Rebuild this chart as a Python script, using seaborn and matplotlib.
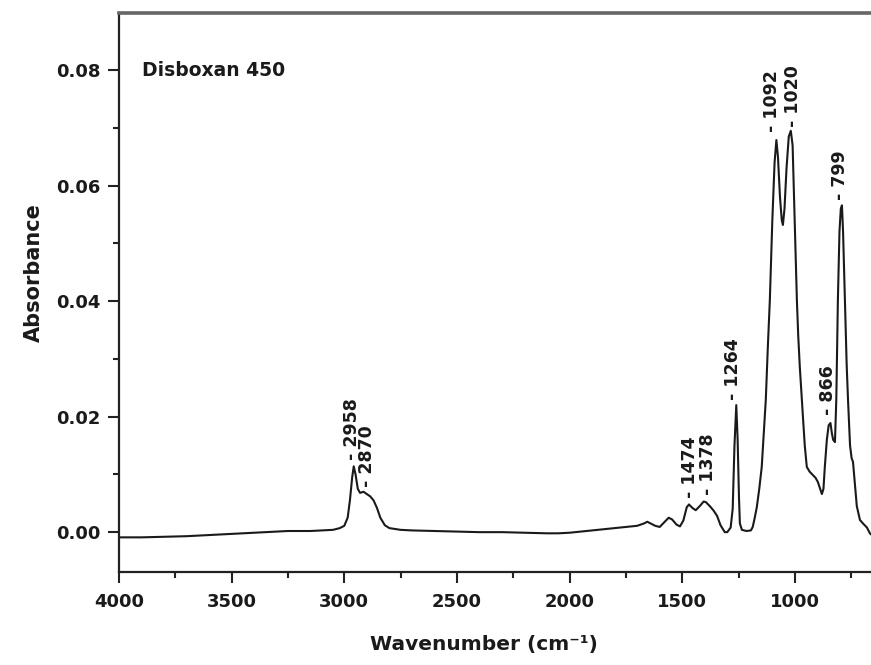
import numpy as np
import pandas as pd
import matplotlib
matplotlib.use("Agg")
import matplotlib.pyplot as plt
from matplotlib.ticker import MultipleLocator, FormatStrFormatter
import seaborn as sns

# ---------------- data ----------------
wavenumber = [
    4000, 3900, 3800, 3700, 3600, 3500, 3400, 3300, 3250, 3200, 3150, 3100,
    3050, 3020, 3000, 2985, 2975, 2965, 2958, 2950, 2940, 2930, 2915, 2900,
    2885, 2870, 2855, 2840, 2820, 2800, 2750, 2700, 2600, 2500, 2400, 2300,
    2200, 2100, 2050, 2000, 1950, 1900, 1850, 1800, 1750, 1700, 1670, 1655,
    1640, 1620, 1600, 1580, 1560, 1545, 1525, 1510, 1495, 1480, 1470, 1455,
    1440, 1420, 1405, 1395, 1375, 1360, 1345, 1330, 1311, 1300, 1285, 1276,
    1268, 1260, 1254, 1248, 1244, 1235, 1215, 1195, 1187, 1178, 1169, 1158,
    1147, 1138, 1129, 1120, 1111, 1100, 1090, 1082, 1075, 1066, 1058, 1053,
    1046, 1037, 1027, 1018, 1010, 1002, 991, 985, 978, 970, 964, 956,
    947, 935, 920, 908, 898, 888, 880, 873, 867, 858, 850, 842,
    836, 830, 822, 816, 809, 802, 796, 791, 786, 778, 770, 764,
    755, 748, 742, 735, 725, 711, 695, 680, 667, 662,
]
absorbance = [
    -0.0009, -0.0009, -0.0008, -0.0007, -0.0005, -0.0003, -0.0001, 0.0001, 0.0002, 0.0002, 0.0002, 0.0003,
    0.0004, 0.0007, 0.0011, 0.0025, 0.0055, 0.0095, 0.0114, 0.0100, 0.0075, 0.0068, 0.0070, 0.0066,
    0.0062, 0.0055, 0.0042, 0.0025, 0.0012, 0.0007, 0.0004, 0.0003, 0.0002, 0.0001, 0.0000, 0.0000,
    -0.0001, -0.0002, -0.0002, -0.0001, 0.0001, 0.0003, 0.0005, 0.0007, 0.0009, 0.0011, 0.0015, 0.0018,
    0.0015, 0.0011, 0.0009, 0.0017, 0.0025, 0.0022, 0.0013, 0.0010, 0.0020, 0.0043, 0.0048, 0.0042,
    0.0038, 0.0046, 0.0053, 0.0052, 0.0044, 0.0037, 0.0028, 0.0012, 0.0000, 0.0000, 0.0008, 0.0040,
    0.0150, 0.0220, 0.0160, 0.0060, 0.0015, 0.0004, 0.0002, 0.0003, 0.0009, 0.0025, 0.0043, 0.0075,
    0.0113, 0.0170, 0.0229, 0.0320, 0.0402, 0.0540, 0.0640, 0.0679, 0.0650, 0.0580, 0.0540, 0.0532,
    0.0560, 0.0630, 0.0685, 0.0695, 0.0670, 0.0560, 0.0402, 0.0340, 0.0286, 0.0235, 0.0199, 0.0150,
    0.0113, 0.0105, 0.0099, 0.0094, 0.0087, 0.0075, 0.0066, 0.0075, 0.0113, 0.0160, 0.0185, 0.0189,
    0.0172, 0.0160, 0.0156, 0.0230, 0.0402, 0.0520, 0.0560, 0.0566, 0.0520, 0.0402, 0.0290, 0.0229,
    0.0150, 0.0128, 0.0122, 0.0090, 0.0045, 0.0021, 0.0014, 0.0008, -0.0002, -0.0004,
]

peak_labels = ["2958", "2870", "1474", "1378", "1264", "1092", "1020", "866", "799"]
peak_label_x = [2964, 2898, 1467, 1387, 1276, 1102, 1009, 853, 800]
peak_label_y = [0.0125, 0.0078, 0.0059, 0.0064, 0.0229, 0.0693, 0.0701, 0.0203, 0.0575]

x_ticks = [4000, 3500, 3000, 2500, 2000, 1500, 1000]
y_ticks = [0.00, 0.02, 0.04, 0.06, 0.08]

sample_name = "Disboxan 450"
x_label = "Wavenumber (cm⁻¹)"
y_label = "Absorbance"

df = pd.DataFrame({"wavenumber": wavenumber, "absorbance": absorbance})

# ---------------- styling ----------------
sns.set_style("ticks")
plt.rcParams["font.family"] = ["DejaVu Sans"]
plt.rcParams["font.weight"] = "bold"

fig = plt.figure(figsize=(8.71, 6.65), dpi=100)
ax = fig.add_axes([119 / 871, 93 / 665, 752 / 871, 559 / 665])

sns.lineplot(data=df, x="wavenumber", y="absorbance", ax=ax, sort=False,
             estimator=None, color="#1a1a1a", linewidth=1.5)

ax.set_xlim(4000, 662)
ax.set_ylim(-0.0069, 0.0899)

ax.set_xticks(x_ticks)
ax.set_yticks(y_ticks)
ax.xaxis.set_minor_locator(MultipleLocator(250))
ax.yaxis.set_minor_locator(MultipleLocator(0.01))
ax.yaxis.set_major_formatter(FormatStrFormatter("%.2f"))

ax.tick_params(axis="both", which="major", direction="out", length=8, width=1.5,
               labelsize=13, color="#222222")
ax.tick_params(axis="both", which="minor", direction="out", length=4, width=1.5,
               color="#222222")
ax.tick_params(axis="x", which="major", pad=7)
ax.tick_params(axis="y", which="major", pad=5)
for lab in ax.get_xticklabels() + ax.get_yticklabels():
    lab.set_fontweight("bold")
    lab.set_color("#1a1a1a")

for side in ["left", "bottom"]:
    ax.spines[side].set_linewidth(1.6)
    ax.spines[side].set_color("#222222")
ax.spines["top"].set_linewidth(2.6)
ax.spines["top"].set_color("#666666")
ax.spines["right"].set_visible(False)

ax.set_xlabel(x_label, fontsize=14.5, fontweight="bold", color="#1a1a1a")
ax.set_ylabel(y_label, fontsize=15, fontweight="bold", color="#1a1a1a")
ax.xaxis.set_label_coords((484 - 119) / 752, (572 - 635) / 559)
ax.yaxis.set_label_coords((44 - 119) / 752, (572 - 273) / 559)

ax.text((142 - 119) / 752, (572 - 70) / 559, sample_name, transform=ax.transAxes,
        ha="left", va="center", fontsize=13.5, fontweight="bold", color="#1a1a1a")

for lab, lx, ly in zip(peak_labels, peak_label_x, peak_label_y):
    ax.text(lx, ly, "- " + lab, rotation=90, ha="center", va="bottom",
            fontsize=12.5, fontweight="bold", color="#1a1a1a")

fig.savefig("out.png", dpi=100, facecolor="white")
